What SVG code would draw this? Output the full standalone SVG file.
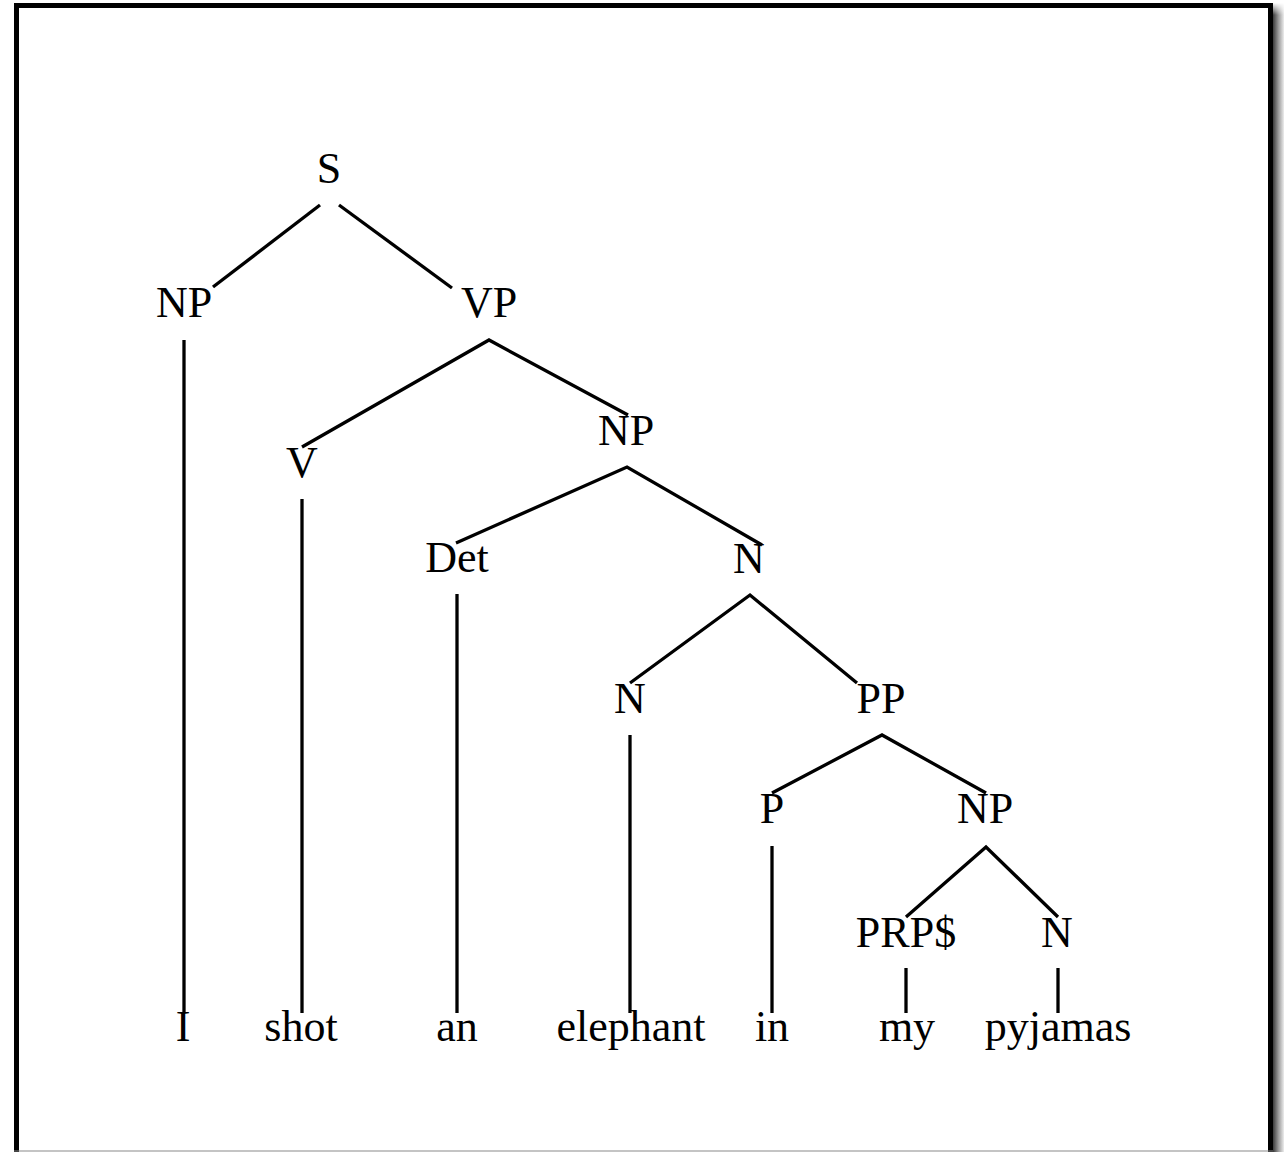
<svg xmlns="http://www.w3.org/2000/svg" width="1284" height="1152" viewBox="0 0 1284 1152">
<defs>
<linearGradient id="shadow" x1="0" y1="0" x2="1" y2="0">
<stop offset="0" stop-color="#3a3a3a"/>
<stop offset="0.5" stop-color="#9a9a9a"/>
<stop offset="1" stop-color="#ededed"/>
</linearGradient>
<linearGradient id="shadowTop" x1="0" y1="0" x2="0" y2="1">
<stop offset="0" stop-color="#ffffff" stop-opacity="1"/>
<stop offset="1" stop-color="#ffffff" stop-opacity="0"/>
</linearGradient>
</defs>
<style>
.lbl{font-family:"Liberation Serif","Times New Roman",serif;font-size:44px;fill:#000;text-anchor:middle}
.edge{fill:none;stroke:#000;stroke-width:3.3;stroke-linejoin:miter}
</style>
<rect x="0" y="0" width="1284" height="1152" fill="#fff"/>
<g id="frame">
<rect x="1273" y="3" width="11" height="1149" fill="url(#shadow)"/>
<rect x="1273" y="3" width="11" height="12" fill="url(#shadowTop)"/>
<rect x="16.5" y="5.5" width="1254" height="1160" fill="none" stroke="#000" stroke-width="5"/>
<line x1="14" y1="1151" x2="1273" y2="1151" stroke="#8a8a8a" stroke-width="1.2"/>
</g>
<g id="connectors">
<polyline class="edge" points="213,287 320,205"/>
<polyline class="edge" points="339,205 452,288"/>
<polyline class="edge" points="302,447 489,340 628,415"/>
<polyline class="edge" points="456,543 627,467 762,545"/>
<polyline class="edge" points="630,683 750,595 857,683"/>
<polyline class="edge" points="772,793 882,735 986,793"/>
<polyline class="edge" points="906,917 986,847 1058,917"/>
<line class="edge" x1="184" y1="340" x2="184" y2="1013"/>
<line class="edge" x1="302" y1="499" x2="302" y2="1013"/>
<line class="edge" x1="457" y1="594" x2="457" y2="1013"/>
<line class="edge" x1="630" y1="735" x2="630" y2="1013"/>
<line class="edge" x1="772" y1="846" x2="772" y2="1013"/>
<line class="edge" x1="906" y1="968" x2="906" y2="1013"/>
<line class="edge" x1="1058" y1="968" x2="1058" y2="1013"/>
</g>
<g id="n-S"><text class="lbl" x="329" y="183">S</text></g>
<g id="n-NP1"><text class="lbl" x="184" y="317">NP</text></g>
<g id="n-VP"><text class="lbl" x="489" y="317">VP</text></g>
<g id="n-V"><text class="lbl" x="302" y="477">V</text></g>
<g id="n-NP2"><text class="lbl" x="626" y="445">NP</text></g>
<g id="n-Det"><text class="lbl" x="457" y="572">Det</text></g>
<g id="n-N1"><text class="lbl" x="749" y="573">N</text></g>
<g id="n-N2"><text class="lbl" x="630" y="713">N</text></g>
<g id="n-PP"><text class="lbl" x="881" y="713">PP</text></g>
<g id="n-P"><text class="lbl" x="772" y="823">P</text></g>
<g id="n-NP3"><text class="lbl" x="985" y="823">NP</text></g>
<g id="n-PRP"><text class="lbl" x="906" y="947">PRP$</text></g>
<g id="n-N3"><text class="lbl" x="1057" y="947">N</text></g>
<g id="w-I"><text class="lbl" x="183" y="1041">I</text></g>
<g id="w-shot"><text class="lbl" x="301" y="1041">shot</text></g>
<g id="w-an"><text class="lbl" x="457" y="1041">an</text></g>
<g id="w-elephant"><text class="lbl" x="631" y="1041">elephant</text></g>
<g id="w-in"><text class="lbl" x="772" y="1041">in</text></g>
<g id="w-my"><text class="lbl" x="907" y="1041">my</text></g>
<g id="w-pyjamas"><text class="lbl" x="1058" y="1041">pyjamas</text></g>
</svg>
